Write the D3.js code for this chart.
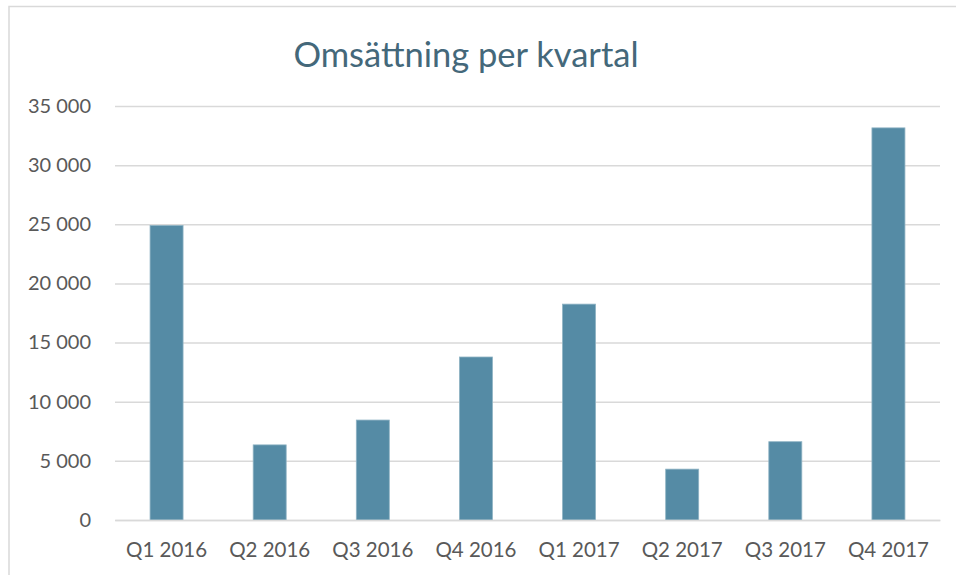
<!DOCTYPE html>
<html>
<head>
<meta charset="utf-8">
<script src="https://cdn.jsdelivr.net/npm/d3@7"></script>
<style>
body{margin:0;background:#fff;}
svg text{font-family:Lato,"Open Sans",sans-serif;}
</style>
</head>
<body>
<div id="idChart"></div>
<script>
var aQuarters=["Q1 2016","Q2 2016","Q3 2016","Q4 2016","Q1 2017","Q2 2017","Q3 2017","Q4 2017"];
var aSales=[24900,6350,8450,13780,18250,4300,6620,33150];
var aTicks=[0,5000,10000,15000,20000,25000,30000,35000];
var sTitle="Omsättning per kvartal";

var iWidth=956, iHeight=575;
var myMargin={top:106,right:16,bottom:55,left:115};

var mySvg=d3.select("#idChart").append("svg")
	.attr("width",iWidth)
	.attr("height",iHeight);

// chart frame
mySvg.append("rect")
	.attr("x",9).attr("y",6.5)
	.attr("width",iWidth+20).attr("height",iHeight+20)
	.attr("fill","none")
	.attr("stroke","#d9d9d9")
	.attr("stroke-width",1.5);

var xScale=d3.scaleBand()
	.domain(aQuarters)
	.range([myMargin.left,iWidth-myMargin.right])
	.paddingInner(0.68)
	.paddingOuter(0.34);

var yScale=d3.scaleLinear()
	.domain([0,35000])
	.range([iHeight-myMargin.bottom,myMargin.top]);

var fFormat=function(d){return d3.format(",")(d).replace(/,/g," ");};

// grid + y labels
var yAxis=mySvg.append("g")
	.attr("transform","translate("+myMargin.left+",0)")
	.call(d3.axisLeft(yScale).tickValues(aTicks).tickFormat(fFormat)
		.tickSize(-(iWidth-myMargin.left-myMargin.right)).tickPadding(24));
yAxis.select(".domain").remove();
yAxis.selectAll(".tick line").attr("stroke","#d9d9d9").attr("stroke-width",1.5);
yAxis.selectAll(".tick text")
	.attr("fill","#595959")
	.style("font-size","20px");

// bars
mySvg.append("g").selectAll(".SalesBar")
	.data(aSales)
	.enter().append("rect")
		.attr("class","SalesBar")
		.attr("x",function(d,i){return xScale(aQuarters[i]);})
		.attr("y",function(d){return yScale(d);})
		.attr("width",xScale.bandwidth())
		.attr("height",function(d){return yScale(0)-yScale(d);})
		.attr("fill","#558ba5")
		.attr("stroke","#8fb3c4")
		.attr("stroke-width",0.8);

// x labels
var xAxis=mySvg.append("g")
	.attr("transform","translate(0,"+yScale(0)+")")
	.call(d3.axisBottom(xScale).tickSize(0).tickPadding(22));
xAxis.select(".domain").attr("stroke","#d9d9d9").attr("stroke-width",1.5);
xAxis.selectAll(".tick text")
	.attr("fill","#595959")
	.style("font-size","20.5px");

// title
mySvg.append("text")
	.attr("x",466)
	.attr("y",67)
	.attr("text-anchor","middle")
	.attr("fill","#44687a")
	.style("font-size","34.5px")
	.text(sTitle);
</script>
</body>
</html>
